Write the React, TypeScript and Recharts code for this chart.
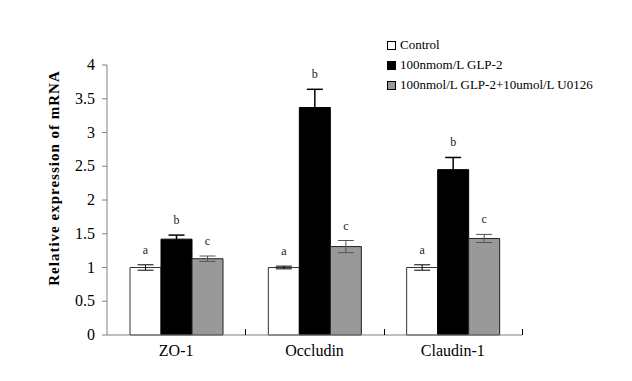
import React from 'react';
import { BarChart, Bar, XAxis, YAxis, ErrorBar, LabelList } from 'recharts';

const categories = ['ZO-1', 'Occludin', 'Claudin-1'];
const control = [1.0, 1.0, 1.0];
const controlErr = [0.04, 0.02, 0.04];
const glp2 = [1.42, 3.37, 2.45];
const glp2Err = [0.06, 0.27, 0.18];
const u0126 = [1.13, 1.31, 1.43];
const u0126Err = [0.04, 0.09, 0.06];
const yTicks = [0, 0.5, 1, 1.5, 2, 2.5, 3, 3.5, 4];

const seriesNames = ['Control', '100nmom/L GLP-2', '100nmol/L GLP-2+10umol/L U0126'];
const seriesColors = ['#ffffff', '#000000', '#999999'];
const letters = ['a', 'b', 'c'];
const errs = [controlErr, glp2Err, u0126Err];

const data = categories.map((c, i) => ({
  name: c,
  control: control[i],
  controlErr: controlErr[i],
  glp2: glp2[i],
  glp2Err: glp2Err[i],
  u0126: u0126[i],
  u0126Err: u0126Err[i],
}));

const font = '"Liberation Serif", serif';
const W = 632;
const H = 381;
const margin = { top: 65, right: 110, bottom: 16, left: 0 };
const yAxisWidth = 107;
const xAxisHeight = 30;
const band = (W - margin.right - margin.left - yAxisWidth) / categories.length;

// letter above each bar, placed over the error bar cap
const letterLabel = (s: number) => (props: any) => {
  const { x, y, width, height, value, index } = props;
  const pxPerUnit = height / value;
  const top = y - errs[s][index] * pxPerUnit;
  return (
    <text x={x + width / 2} y={top - 11} textAnchor="middle" style={{ fontFamily: font }} fontSize={12} fill="#222">
      {letters[s]}
    </text>
  );
};

const YTick = (props: any) => {
  const { x, y, payload } = props;
  return (
    <text x={x - 5} y={y + 5} textAnchor="end" style={{ fontFamily: font }} fontSize={16} fill="#000">
      {payload.value}
    </text>
  );
};

// category label plus the small inside tick at the right edge of each category
const XTick = (props: any) => {
  const { x, payload } = props;
  const axisY = H - margin.bottom - xAxisHeight;
  const tx = Math.round(x + band / 2) + 0.5;
  return (
    <g>
      <line x1={tx} x2={tx} y1={axisY} y2={axisY - 6} stroke="#000" strokeWidth={1} />
      <text x={x} y={axisY + 21} textAnchor="middle" style={{ fontFamily: font }} fontSize={16} fill="#000">
        {payload.value}
      </text>
    </g>
  );
};

const YLabel = () => (
  <text
    transform="translate(59,178) rotate(-90)"
    textAnchor="middle"
    style={{ fontFamily: font, fontWeight: 'bold', letterSpacing: 1 }}
    fontSize={15}
    fill="#000"
  >
    Relative expression of mRNA
  </text>
);

const LegendBox = () => (
  <div
    style={{
      position: 'absolute',
      left: 387,
      top: 35,
      fontFamily: font,
      fontSize: 13,
      color: '#000',
      lineHeight: '20px',
    }}
  >
    {seriesNames.map((n, i) => (
      <div key={n} style={{ display: 'flex', alignItems: 'center', whiteSpace: 'nowrap' }}>
        <span
          style={{
            display: 'inline-block',
            width: 7,
            height: 7,
            background: seriesColors[i],
            border: '1px solid #000',
            marginRight: 4,
          }}
        />
        {n}
      </div>
    ))}
  </div>
);

const App: React.FC = () => {
  return (
    <div style={{ position: 'absolute', left: 0, top: 0, width: W, height: H, background: '#fff', fontFamily: font }}>
      <BarChart width={W} height={H} data={data} margin={margin} barGap={0} barCategoryGap="16%">
        <XAxis
          dataKey="name"
          axisLine={{ stroke: '#808080' }}
          tickLine={false}
          height={xAxisHeight}
          interval={0}
          tick={<XTick />}
        />
        <YAxis
          width={yAxisWidth}
          domain={[0, 4]}
          ticks={yTicks}
          axisLine={{ stroke: '#808080' }}
          tickLine={{ stroke: '#808080' }}
          tickSize={5}
          tick={<YTick />}
        />
        <Bar dataKey="control" fill={seriesColors[0]} stroke="#333" barSize={31} isAnimationActive={false}>
          <ErrorBar dataKey="controlErr" width={8} stroke="#000" strokeWidth={1} />
          <LabelList dataKey="control" content={letterLabel(0)} />
        </Bar>
        <Bar dataKey="glp2" fill={seriesColors[1]} stroke="#000" barSize={31} isAnimationActive={false}>
          <ErrorBar dataKey="glp2Err" width={8} stroke="#000" strokeWidth={1.5} />
          <LabelList dataKey="glp2" content={letterLabel(1)} />
        </Bar>
        <Bar dataKey="u0126" fill={seriesColors[2]} stroke="#222" barSize={31} isAnimationActive={false}>
          <ErrorBar dataKey="u0126Err" width={8} stroke="#555" strokeWidth={1} />
          <LabelList dataKey="u0126" content={letterLabel(2)} />
        </Bar>
      </BarChart>
      <svg width={W} height={H} style={{ position: 'absolute', left: 0, top: 0, pointerEvents: 'none' }}>
        <YLabel />
      </svg>
      <LegendBox />
    </div>
  );
};

export default App;
